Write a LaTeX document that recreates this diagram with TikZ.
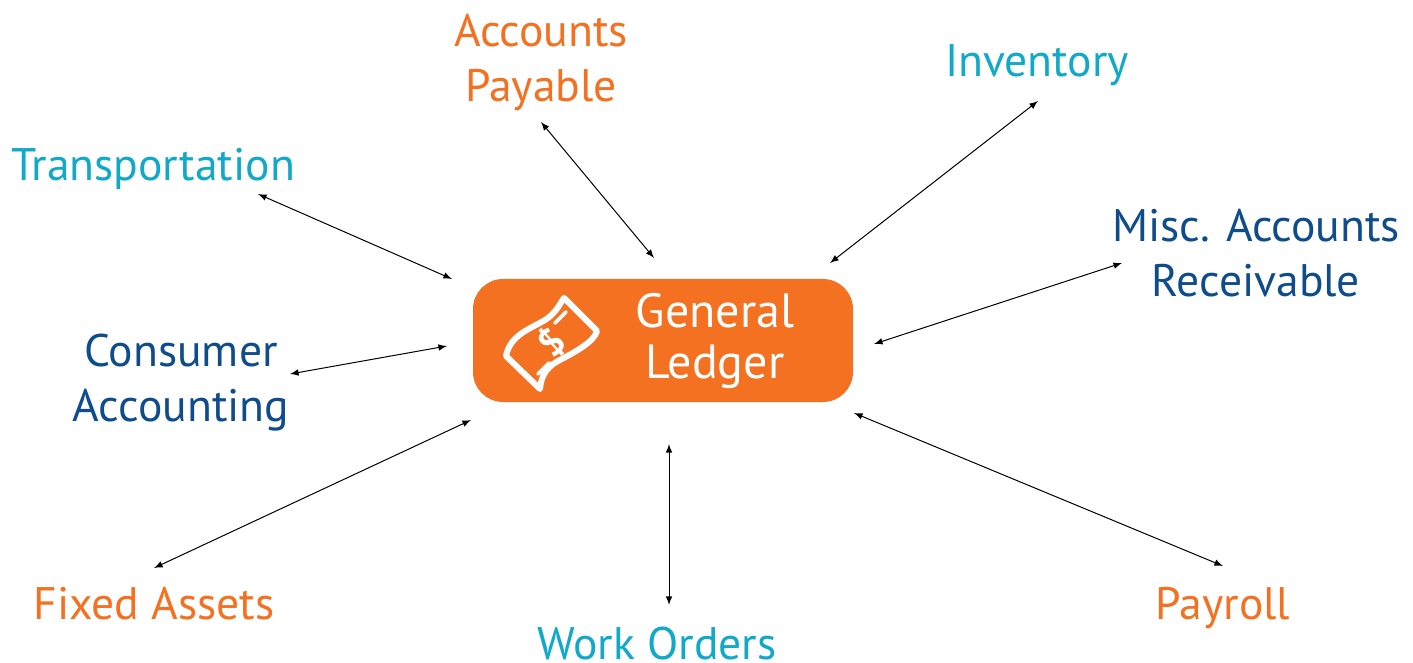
\documentclass[tikz,border=0pt]{standalone}
\usepackage{fontspec}
\setmainfont{PT Sans}
\usetikzlibrary{calc}
\definecolor{ledgerorange}{HTML}{F47121}
\definecolor{ledgercyan}{HTML}{10A9C9}
\definecolor{ledgernavy}{HTML}{0F4C8C}
\tikzset{
  field/.style={align=center,inner sep=0pt,font=\fontsize{22.8}{27.5}\selectfont},
  link/.style={latex-latex,line width=0.5pt,black},
  billline/.style={draw=white,line width=3pt,line cap=round,line join=round}
}
\begin{document}
\begin{tikzpicture}[x=0.5pt,y=-0.5pt]
\useasboundingbox (0,0) rectangle (1413,663);
\node [fill=ledgerorange,rounded corners=15pt,minimum width=190pt,minimum height=61.5pt,inner sep=0pt] (GeneralLedger) at (663,340.5) {};
\node [field,text=white,font=\fontsize{24}{25}\selectfont] (GeneralLedgerName) at (715,341) {General\\Ledger};
\node [field,text=ledgercyan] (Transportation) at (153,169) {Transportation};
\node [field,text=ledgerorange] (AccountsPayable) at (541,62) {Accounts\\Payable};
\node [field,text=ledgercyan] (Inventory) at (1037,65) {Inventory};
\node [field,text=ledgernavy] (MiscAccounts) at (1256,253) {Misc. Accounts\\Receivable};
\node [field,text=ledgernavy] (ConsumerAccounting) at (181,383) {Consumer\\Accounting};
\node [field,text=ledgerorange] (FixedAssets) at (154,604) {Fixed Assets};
\node [field,text=ledgercyan] (WorkOrders) at (657,644) {Work Orders};
\node [field,text=ledgerorange] (Payroll) at (1223,608) {Payroll};
\draw [link] ($(Transportation)+(105,25)$) -- ($(GeneralLedger)+(-211,-61.5)$);
\draw [link] ($(AccountsPayable)+(0,60)$) -- ($(GeneralLedger)+(-9,-82.5)$);
\draw [link] ($(Inventory)+(1,36)$) -- ($(GeneralLedger)+(167,-77.5)$);
\draw [link] ($(MiscAccounts)+(-134,10)$) -- ($(GeneralLedger)+(211,3.5)$);
\draw [link] ($(ConsumerAccounting)+(109,-9)$) -- ($(GeneralLedger)+(-216,5.5)$);
\draw [link] ($(FixedAssets)+(0,-36)$) -- ($(GeneralLedger)+(-192,79.5)$);
\draw [link] ($(WorkOrders)+(12,-39)$) -- ($(GeneralLedger)+(6,103.5)$);
\draw [link] ($(Payroll)+(0,-42)$) -- ($(GeneralLedger)+(191,72.5)$);
\draw [billline] (506,356) .. controls (510,335) and (530,329) .. (545,320) .. controls (556,313) and (559,305) .. (564,298) -- (597,331) .. controls (594,342) and (575,352) .. (558,361) .. controls (545,368) and (541,378) .. (540,389) -- cycle;
\draw [billline,line width=1.8pt] (555,323) -- (566,312);
\draw [billline,line width=1.8pt] (538,374) -- (549,363);
\node [text=white,font=\bfseries\fontsize{19}{19}\selectfont,rotate=42,inner sep=0pt] (BillSign) at (552,342) {\$};
\end{tikzpicture}
\end{document}
